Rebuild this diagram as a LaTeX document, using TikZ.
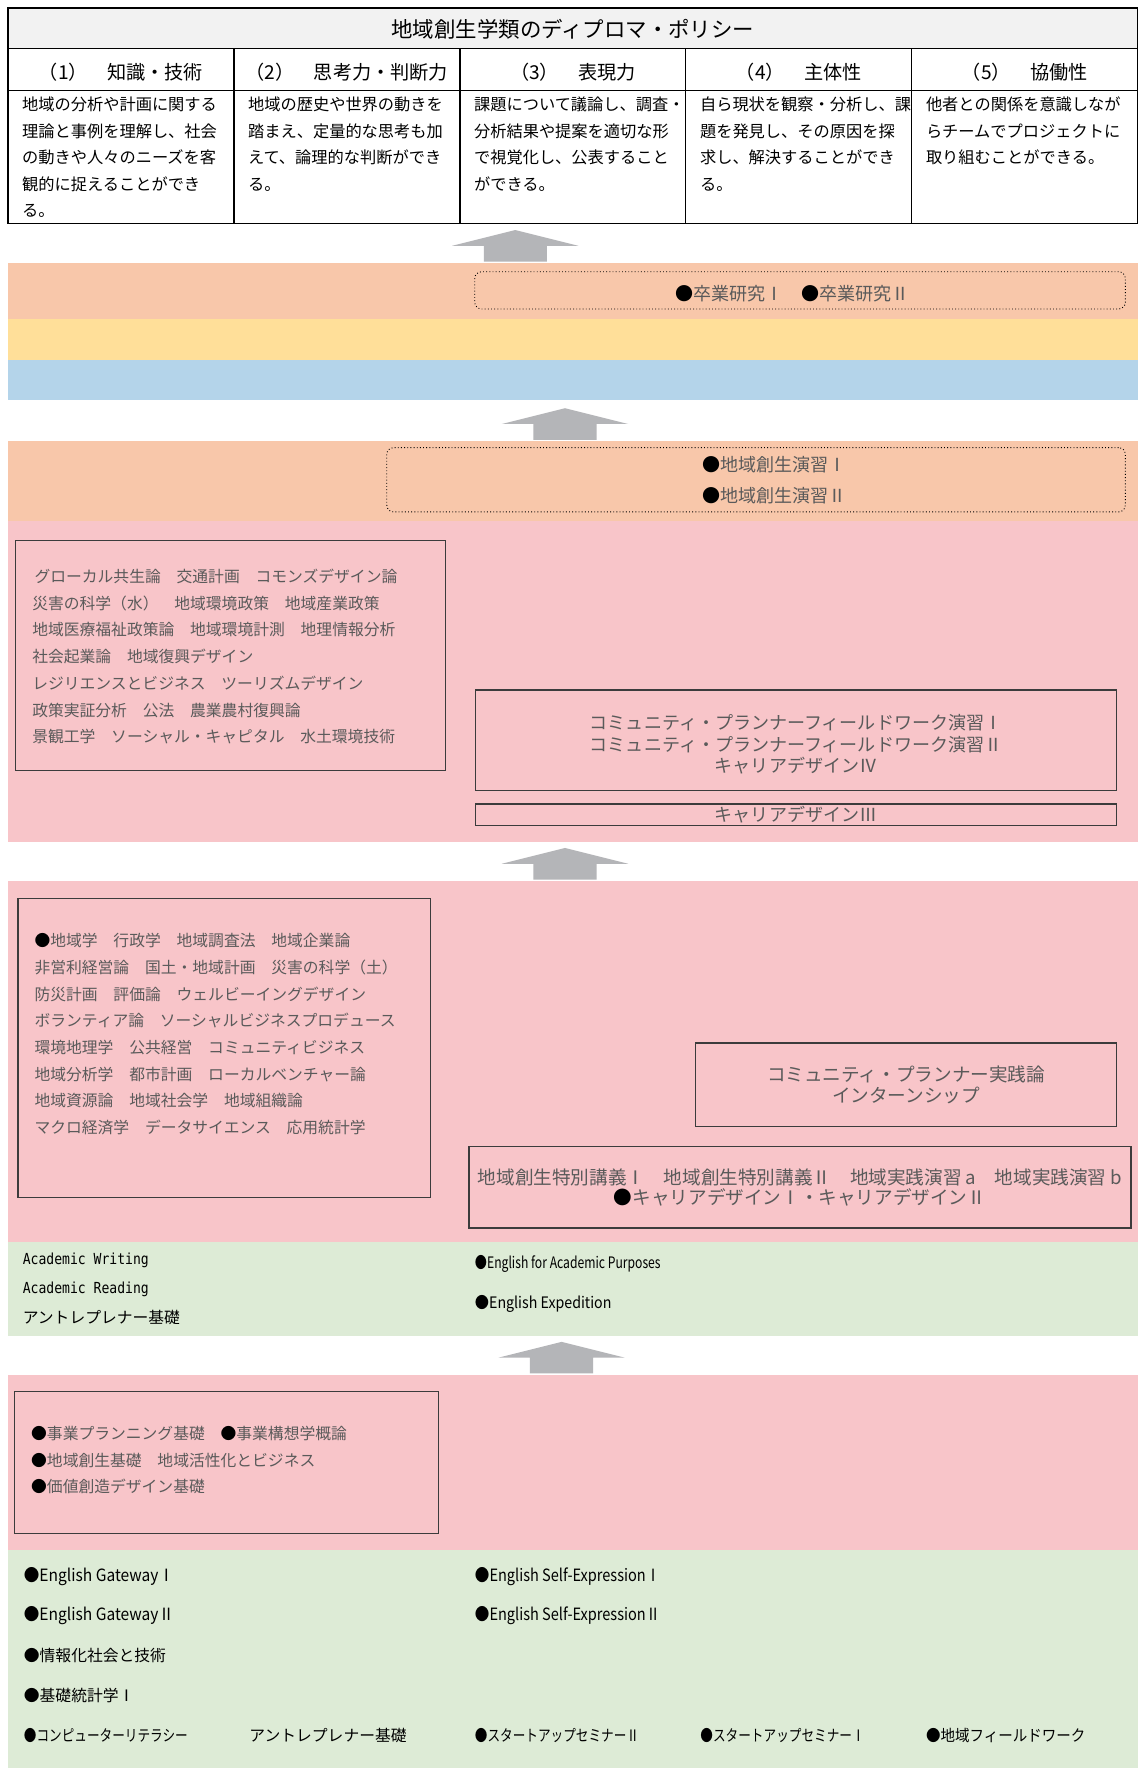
\documentclass[tikz,border=0pt]{standalone}
\usepackage{fontspec}
\usepackage{graphicx}
\setmainfont{Noto Sans CJK JP}
\newfontfamily\latinmono{DejaVu Sans Mono}
\usepackage{tikz}
\usetikzlibrary{positioning}
\usepackage{xcolor}
\definecolor{dpgray}{RGB}{242,242,242}
\definecolor{bandsalmon}{RGB}{248,199,170}
\definecolor{bandyellow}{RGB}{255,223,153}
\definecolor{bandblue}{RGB}{180,212,234}
\definecolor{bandpink}{RGB}{248,197,201}
\definecolor{bandgreen}{RGB}{221,235,214}
\definecolor{arrowgray}{RGB}{180,181,184}
\definecolor{coursegray}{RGB}{90,90,90}
\definecolor{boxline}{RGB}{60,60,60}
\newcommand{\jfs}[2]{\fontsize{#1}{#2}\selectfont}
\newcommand{\cond}[2][0.8]{\scalebox{#1}[1]{#2}}
\newcommand{\bul}{{\color{black}●}}

\begin{document}
\begin{tikzpicture}[x=1pt,y=-1pt]

	\tikzstyle{cell} = [rectangle, draw=black, line width=1.2pt, inner sep=0pt, minimum width=200.4pt]
	\tikzstyle{dptext} = [inner sep=0pt, align=left, font=\jfs{14.4}{23.5}]
	\tikzstyle{band} = [rectangle, inner sep=0pt, minimum width=1002pt]
	\tikzstyle{coursebox} = [rectangle, draw=boxline, line width=1.1pt, inner sep=0pt, text=coursegray, align=center, font=\jfs{16}{19}]
	\tikzstyle{dotbox} = [rectangle, draw=black, dotted, line width=0.8pt, rounded corners=6pt, inner sep=0pt]
	\tikzstyle{dottext} = [inner sep=0pt, align=left, text=coursegray, font=\jfs{16}{28}]
	\tikzstyle{courselist} = [inner sep=0pt, align=left, text=coursegray, font=\jfs{14}{23.7}]
	\tikzstyle{item} = [inner sep=0pt, anchor=west, font=\jfs{14}{14}]
	\tikzstyle{uparrow} = [fill=arrowgray]

	\path[use as bounding box, fill=white] (0,0) rectangle (1014.5,1568.8);

	% diploma policy table
	\node[cell, minimum width=1002pt, minimum height=36pt, fill=dpgray, font=\jfs{19}{19}, text height=18.5pt, text depth=2pt] (dp) at (508,25) {地域創生学類のディプロマ・ポリシー};
	\foreach \h [count=\i] in {（1）　知識・技術, （2）　思考力・判断力, （3）　表現力, （4）　主体性, （5）　協働性} {
		\node[cell, minimum height=37pt, font=\jfs{17}{17}, text height=20pt, text depth=2pt] (h\i) at ({7+200.4*\i-100.2},61.5) {\h};
	}
	\foreach \b [count=\i] in {
		{地域の分析や計画に関する\\理論と事例を理解し、社会\\の動きや人々のニーズを客\\観的に捉えることができ\\る。},
		{地域の歴史や世界の動きを\\踏まえ、定量的な思考も加\\えて、論理的な判断ができ\\る。},
		{課題について議論し、調査・\\分析結果や提案を適切な形\\で視覚化し、公表すること\\ができる。},
		{自ら現状を観察・分析し、課\\題を発見し、その原因を探\\求し、解決することができ\\る。},
		{他者との関係を意識しなが\\らチームでプロジェクトに\\取り組むことができる。}} {
		\node[cell, minimum height=118pt] (b\i) at ({7+200.4*\i-100.2},139) {};
		\node[dptext, below right=6.5pt and 13pt of b\i.north west] (t\i) {\b};
	}

	% arrows
	\foreach \ax/\ay in {457/204, 501/362, 501/752, 498/1190} {
		\fill[uparrow] ({\ax-56},{\ay+14}) -- (\ax,\ay) -- ({\ax+56},{\ay+14}) -- ({\ax+28},{\ay+14}) -- ({\ax+28},{\ay+28}) -- ({\ax-28},{\ay+28}) -- ({\ax-28},{\ay+14}) -- cycle;
	}

	% bands
	\node[band, fill=bandsalmon, minimum height=50pt] (sotsu) at (508,258) {};
	\node[band, fill=bandyellow, minimum height=36pt] (yellow) at (508,301) {};
	\node[band, fill=bandblue, minimum height=36pt] (blue) at (508,337) {};
	\node[band, fill=bandsalmon, minimum height=71pt] (enshu) at (508,426.5) {};
	\node[band, fill=bandpink, minimum height=285pt] (pink1) at (508,604.5) {};
	\node[band, fill=bandpink, minimum height=320pt] (pink2) at (508,941.5) {};
	\node[band, fill=bandgreen, minimum height=84pt] (green1) at (508,1143) {};
	\node[band, fill=bandpink, minimum height=156pt] (pink3) at (508,1297) {};
	\node[band, fill=bandgreen, minimum height=193pt] (green2) at (508,1471.5) {};

	% dotted boxes
	\node[dotbox, minimum width=577pt, minimum height=33pt] (sk) at (709.5,257.5) {};
	\node[dottext] (sktext) at (703,260) {\bul 卒業研究Ⅰ　\bul 卒業研究Ⅱ};
	\node[dotbox, minimum width=655pt, minimum height=57pt] (ek) at (670.5,425.5) {};
	\node[dottext] (ektext) at (687,426) {\bul 地域創生演習Ⅰ\\\bul 地域創生演習Ⅱ};

	% upper pink band
	\node[coursebox, minimum width=381pt, minimum height=204pt] (boxa) at (204.5,581) {};
	\node[courselist, below right=26pt and 15pt of boxa.north west] (lista) {\hspace{2pt}グローカル共生論　交通計画　コモンズデザイン論\\災害の科学（水）　地域環境政策　地域産業政策\\地域医療福祉政策論　地域環境計測　地理情報分析\\社会起業論　地域復興デザイン\\レジリエンスとビジネス　ツーリズムデザイン\\政策実証分析　公法　農業農村復興論\\景観工学　ソーシャル・キャピタル　水土環境技術};
	\node[coursebox, minimum width=568pt, minimum height=89pt] (boxb) at (706,656.5) {};
	\node[coursebox, draw=none, minimum width=0pt, minimum height=0pt] (boxbtext) at (706,660) {コミュニティ・プランナーフィールドワーク演習Ⅰ\\コミュニティ・プランナーフィールドワーク演習Ⅱ\\キャリアデザインⅣ};
	\node[coursebox, minimum width=568pt, minimum height=19pt] (boxc) at (706,722.5) {キャリアデザインⅢ};

	% lower pink band
	\node[coursebox, minimum width=366pt, minimum height=265pt] (boxd) at (199,929.5) {};
	\node[courselist, below right=31pt and 15pt of boxd.north west] (listd) {\bul 地域学　行政学　地域調査法　地域企業論\\非営利経営論　国土・地域計画　災害の科学（土）\\防災計画　評価論　ウェルビーイングデザイン\\ボランティア論　ソーシャルビジネスプロデュース\\環境地理学　公共経営　コミュニティビジネス\\地域分析学　都市計画　ローカルベンチャー論\\地域資源論　地域社会学　地域組織論\\マクロ経済学　データサイエンス　応用統計学};
	\node[coursebox, minimum width=373pt, minimum height=74pt, font=\jfs{16.5}{18}] (boxe) at (803.5,962) {コミュニティ・プランナー実践論\\インターンシップ};
	\node[coursebox, minimum width=587pt, minimum height=72pt, font=\jfs{16.5}{18}] (boxf) at (709.5,1053) {地域創生特別講義Ⅰ　地域創生特別講義Ⅱ　地域実践演習 a　地域実践演習 b\\\bul キャリアデザインⅠ・キャリアデザインⅡ};

	% upper green band
	\node[item, font=\latinmono\fontsize{13.5}{14}\selectfont] (aw) at (20,1118) {\cond[0.86]{Academic Writing}};
	\node[item, font=\latinmono\fontsize{13.5}{14}\selectfont] (ar) at (20,1143) {\cond[0.86]{Academic Reading}};
	\node[item] (ae1) at (20,1168) {アントレプレナー基礎};
	\node[item, font=\jfs{14}{14}] (eap) at (421,1121) {\cond[0.77]{●English for Academic Purposes}};
	\node[item, font=\jfs{14}{14}] (eex) at (421,1156) {\cond[0.9]{●English Expedition}};

	% lowest pink band
	\node[coursebox, minimum width=376pt, minimum height=126pt] (boxg) at (201,1297) {};
	\node[courselist, below right=31pt and 15pt of boxg.north west] (listg) {\bul 事業プランニング基礎　\bul 事業構想学概論\\\bul 地域創生基礎　地域活性化とビジネス\\\bul 価値創造デザイン基礎};

	% lowest green band
	\node[item, font=\jfs{15}{15}] (eg1) at (21,1398) {\cond[0.92]{●English GatewayⅠ}};
	\node[item, font=\jfs{15}{15}] (eg2) at (21,1433) {\cond[0.92]{●English GatewayⅡ}};
	\node[item] (jsg) at (21,1468) {●情報化社会と技術};
	\node[item] (kt1) at (21,1504) {●基礎統計学Ⅰ};
	\node[item, font=\jfs{15}{15}] (es1) at (421,1398) {\cond[0.86]{●English Self-ExpressionⅠ}};
	\node[item, font=\jfs{15}{15}] (es2) at (421,1433) {\cond[0.86]{●English Self-ExpressionⅡ}};
	\foreach \t [count=\i] in {{\cond{●コンピューターリテラシー}}, アントレプレナー基礎, {\cond{●スタートアップセミナーⅡ}}, {\cond{●スタートアップセミナーⅠ}}, {\cond[0.92]{●地域フィールドワーク}}} {
		\node[item] (fw\i) at ({21+200*(\i-1)},1539) {\t};
	}

\end{tikzpicture}
\end{document}
